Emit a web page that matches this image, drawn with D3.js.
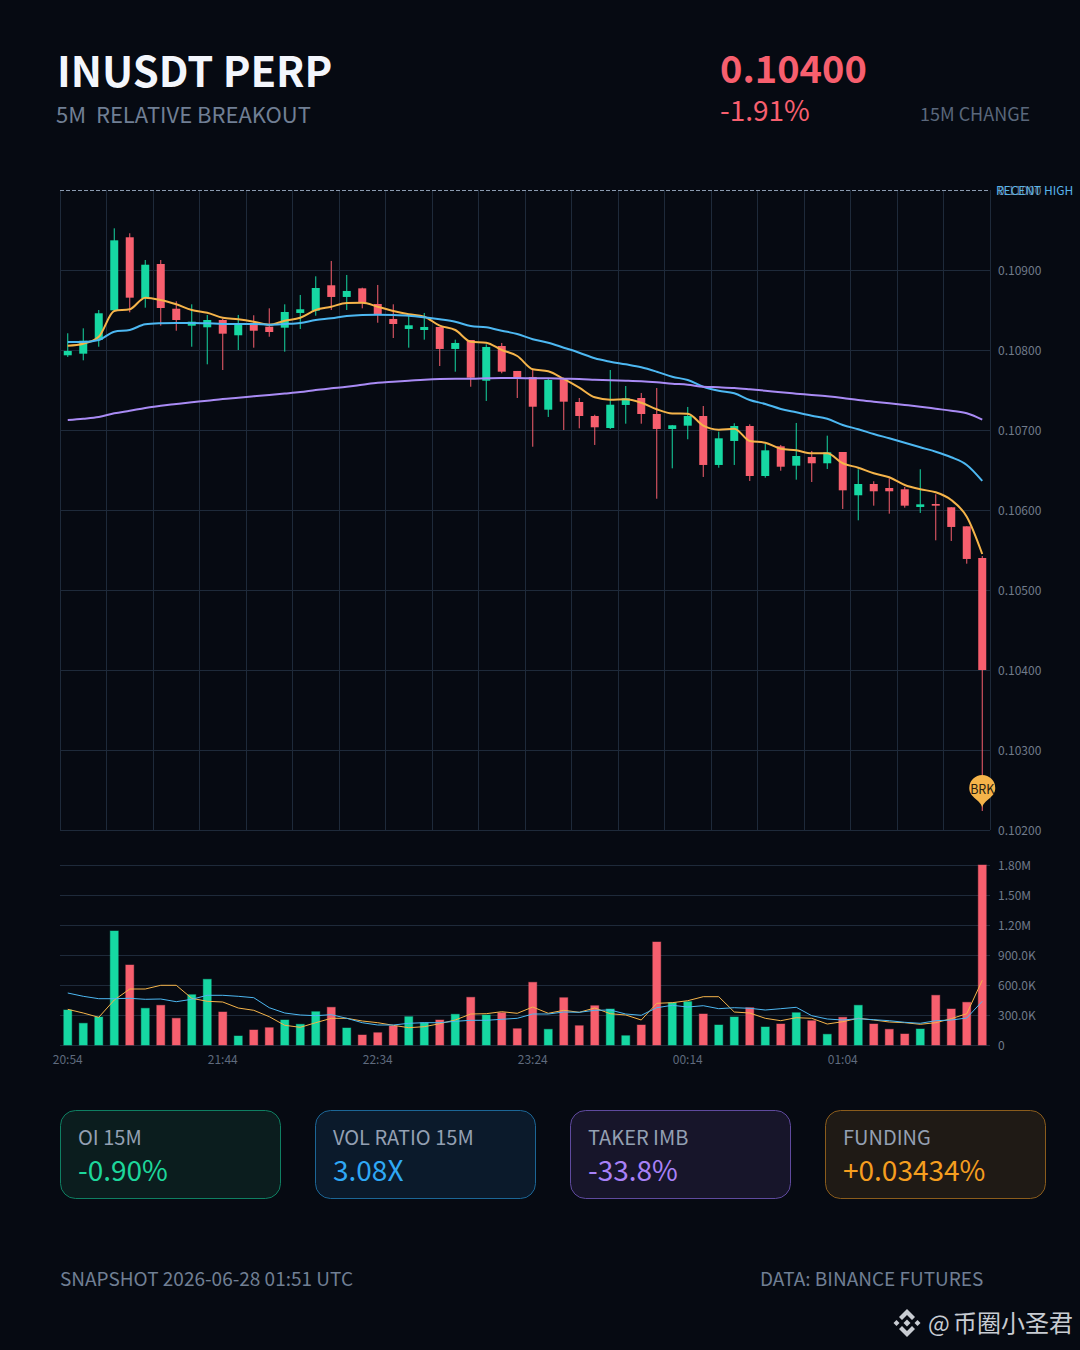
<!DOCTYPE html>
<html>
<head>
<meta charset="utf-8">
<script src="https://cdn.jsdelivr.net/npm/d3@7"></script>
<style>
  html, body { margin: 0; padding: 0; background: #060a12; }
  svg { display: block; }
  text { font-family: "Noto Sans CJK SC", "Noto Sans", sans-serif; white-space: pre; }
</style>
</head>
<body>
<div id="chart"></div>
<script>
const times = [
  "20:54","20:59","21:04","21:09","21:14","21:19","21:24","21:29","21:34","21:39",
  "21:44","21:49","21:54","21:59","22:04","22:09","22:14","22:19","22:24","22:29",
  "22:34","22:39","22:44","22:49","22:54","22:59","23:04","23:09","23:14","23:19",
  "23:24","23:29","23:34","23:39","23:44","23:49","23:54","23:59","00:04","00:09",
  "00:14","00:19","00:24","00:29","00:34","00:39","00:44","00:49","00:54","00:59",
  "01:04","01:09","01:14","01:19","01:24","01:29","01:34","01:39","01:44","01:49"
];
const open = [
  0.107934,0.107954,0.108125,0.108496,0.109409,0.10865,0.109075,0.108516,0.108304,0.108284,
  0.108375,0.108184,0.108338,0.108291,0.108279,0.108463,0.108491,0.108809,0.108663,0.108771,
  0.108575,0.108388,0.108263,0.10825,0.108288,0.108013,0.108125,0.107616,0.10805,0.107738,
  0.107663,0.107254,0.107634,0.10735,0.107175,0.107025,0.107313,0.1074,0.1072,0.107013,
  0.107054,0.107175,0.106563,0.106863,0.10705,0.106425,0.106796,0.106554,0.106663,0.106584,
  0.106725,0.106184,0.106325,0.106275,0.106259,0.106038,0.106075,0.106034,0.105796,0.1054
];
const close = [
  0.107988,0.108116,0.108459,0.109371,0.108654,0.109066,0.108525,0.108375,0.108354,0.108375,
  0.108204,0.108334,0.108241,0.108225,0.108475,0.108509,0.108775,0.108663,0.108738,0.108591,
  0.108438,0.108325,0.108309,0.108288,0.108013,0.108088,0.107654,0.108038,0.107729,0.107654,
  0.107291,0.107625,0.107354,0.107175,0.107034,0.107316,0.107396,0.1072,0.107013,0.107059,
  0.107175,0.106563,0.106896,0.10705,0.106425,0.106746,0.106541,0.106675,0.106584,0.106721,
  0.106246,0.106325,0.106234,0.106234,0.106054,0.106071,0.106054,0.105788,0.105388,0.104
];
const high = [
  0.108209,0.108271,0.1085,0.109521,0.109459,0.109125,0.109125,0.108609,0.108571,0.108438,
  0.108388,0.108438,0.108434,0.108521,0.108571,0.108688,0.108921,0.109113,0.108938,0.108779,
  0.108813,0.108571,0.108438,0.108463,0.108288,0.108129,0.108125,0.108071,0.108088,0.107738,
  0.10775,0.107638,0.107654,0.1074,0.107191,0.10775,0.10755,0.107463,0.107525,0.107063,
  0.107288,0.1073,0.106979,0.107084,0.107071,0.106825,0.106813,0.107088,0.106738,0.106929,
  0.106725,0.106509,0.106359,0.106396,0.106288,0.106509,0.106196,0.106034,0.105796,0.105425
];
const low = [
  0.107913,0.107871,0.108041,0.108488,0.108471,0.108529,0.108304,0.108241,0.108041,0.107821,
  0.10775,0.108,0.108029,0.108166,0.107979,0.108263,0.108429,0.1085,0.1085,0.108521,
  0.108341,0.10815,0.108029,0.108129,0.1078,0.107729,0.107541,0.107363,0.107709,0.1074,
  0.106791,0.107163,0.107,0.107021,0.106813,0.107013,0.107079,0.107079,0.106141,0.106521,
  0.106884,0.106413,0.106529,0.106563,0.106363,0.106404,0.106491,0.106379,0.10635,0.106513,
  0.106013,0.105871,0.106054,0.105954,0.106029,0.105963,0.105621,0.105613,0.105329,0.102238
];
const emaFast = [
  0.108054,0.108079,0.108166,0.108488,0.108509,0.108654,0.108625,0.108571,0.1085,0.108466,
  0.108404,0.108384,0.108354,0.108316,0.108366,0.108404,0.1085,0.108541,0.108588,0.10859,
  0.108541,0.108488,0.108446,0.108416,0.108304,0.10825,0.108104,0.108091,0.108,0.107925,
  0.107759,0.107734,0.107638,0.107529,0.107409,0.107379,0.107384,0.107341,0.107259,0.107206,
  0.107204,0.107054,0.107004,0.107016,0.106863,0.106841,0.106766,0.106746,0.106709,0.106709,
  0.106584,0.106529,0.106459,0.106409,0.106313,0.106259,0.106221,0.106125,0.105916,0.10545
];
const emaMid = [
  0.1081,0.1081,0.108125,0.108229,0.10825,0.108321,0.108334,0.108338,0.108338,0.108334,
  0.108325,0.108325,0.108325,0.108316,0.108325,0.108338,0.108375,0.108396,0.108425,0.108438,
  0.108441,0.108438,0.108429,0.108409,0.108384,0.108354,0.1083,0.108284,0.108241,0.1082,
  0.108134,0.108091,0.108029,0.107966,0.107896,0.107854,0.107821,0.107784,0.107729,0.107666,
  0.107625,0.107541,0.107491,0.107459,0.107375,0.107325,0.107263,0.107221,0.107179,0.107141,
  0.107063,0.107009,0.10695,0.106896,0.106841,0.106784,0.106729,0.106659,0.106563,0.106363
];
const emaSlow = [
  0.107125,0.107141,0.107163,0.107209,0.107241,0.107275,0.107304,0.107325,0.107346,0.107366,
  0.107388,0.107404,0.107421,0.107438,0.107456,0.107475,0.1075,0.107521,0.107541,0.107566,
  0.107591,0.107604,0.107616,0.107629,0.107638,0.107641,0.107641,0.107646,0.10765,0.10765,
  0.107646,0.107646,0.107641,0.107638,0.107629,0.107621,0.107616,0.107609,0.107596,0.107579,
  0.107566,0.107541,0.107534,0.107525,0.107509,0.107491,0.107471,0.107454,0.107438,0.107421,
  0.1074,0.107375,0.107354,0.107334,0.107313,0.107291,0.107266,0.107241,0.107209,0.107129
];
const volume = [
  350,217,280,1140,800,367,397,267,503,657,
  330,90,150,173,250,207,333,377,170,100,
  123,190,283,223,250,307,477,300,323,163,
  627,157,473,193,393,360,93,200,1030,423,
  433,310,200,280,373,180,210,323,243,107,
  277,397,210,157,110,160,497,360,427,1800
];
const volFast = [
  357,320,277,450,560,560,597,597,467,437,
  430,370,347,283,197,177,223,267,267,240,
  223,197,173,183,213,250,310,313,333,317,
  380,317,347,327,370,313,300,250,417,423,
  443,483,483,330,320,267,243,273,267,210,
  233,267,250,230,223,207,223,263,313,647
];
const volSlow = [
  520,487,463,463,467,457,460,433,457,497,
  497,487,473,373,320,300,293,303,267,223,
  200,200,217,223,223,237,247,247,257,267,
  310,310,330,327,347,350,310,297,373,397,
  380,393,363,373,367,350,363,377,293,260,
  250,263,253,243,227,217,243,250,270,437
];
const priceTicks = [0.102,0.103,0.104,0.105,0.106,0.107,0.108,0.109,0.11];
const volumeTicks = [0,300,600,900,1200,1500,1800];
const volumeTickLabels = ["0","300.0K","600.0K","900.0K","1.20M","1.50M","1.80M"];
const timeTicks = ["20:54","21:44","22:34","23:24","00:14","01:04"];
const cards = [
  { label: "OI 15M", value: "-0.90%", color: "#1dd79b", fill: "#0b1d1e", border: "#0f7f62" },
  { label: "VOL RATIO 15M", value: "3.08X", color: "#2fa8f5", fill: "#0b1a2b", border: "#1c6696" },
  { label: "TAKER IMB", value: "-33.8%", color: "#a881f7", fill: "#17152a", border: "#5f4a9e" },
  { label: "FUNDING", value: "+0.03434%", color: "#f59e1f", fill: "#1f1a15", border: "#8a5c1c" }
];

const green = "#16d8a2";
const red = "#f75f6e";
const orange = "#f5b44a";
const blue = "#4db8f2";
const purple = "#a98bf5";
const gridColor = "#1e2a3a";
const axisText = "#707b8b";

const svg = d3.select("#chart").append("svg")
  .attr("width", 1080)
  .attr("height", 1350);

svg.append("rect").attr("width", 1080).attr("height", 1350).attr("fill", "#060a12");

function label(x, y, str, size, color, weight) {
  return svg.append("text")
    .attr("x", x)
    .attr("y", y)
    .attr("font-size", size)
    .attr("font-weight", weight || 400)
    .attr("fill", color)
    .text(str);
}

// header
label(57, 87, "INUSDT PERP", 41.7, "#f3f6fc", 700);
label(56, 123, "5M  RELATIVE BREAKOUT", 22, "#707f94");
label(720, 83, "0.10400", 38, red, 700);
label(720, 121, "-1.91%", 28, red);
label(920, 120.5, "15M CHANGE", 18, "#5a677b");

const x = d3.scaleBand().domain(times).range([60, 990]);
const cx = (d) => x(d) + x.bandwidth() / 2;
const y = d3.scaleLinear().domain([0.102, 0.11]).range([830, 190]);
const yVol = d3.scaleLinear().domain([0, 1800]).range([1045, 865]);

// price grid
svg.append("g")
  .selectAll("line")
  .data(priceTicks.slice(0, -1))
  .enter()
  .append("line")
  .attr("x1", 60)
  .attr("x2", 990)
  .attr("y1", (d) => y(d) + 0.5)
  .attr("y2", (d) => y(d) + 0.5)
  .attr("stroke", gridColor);

svg.append("g")
  .selectAll("line")
  .data(times.filter((d, i) => i % 3 === 0).concat([null]))
  .enter()
  .append("line")
  .attr("x1", (d) => (d ? Math.floor(x(d)) + 0.5 : 990.5))
  .attr("x2", (d) => (d ? Math.floor(x(d)) + 0.5 : 990.5))
  .attr("y1", y(0.11))
  .attr("y2", y(0.102))
  .attr("stroke", gridColor);

// recent high line
svg.append("line")
  .attr("x1", 60)
  .attr("x2", 990)
  .attr("y1", y(0.11) + 0.5)
  .attr("y2", y(0.11) + 0.5)
  .attr("stroke", "#8b9bb0")
  .attr("stroke-dasharray", "4 2");

// price axis
const priceAxis = svg.append("g")
  .attr("transform", "translate(990,0)")
  .call(d3.axisRight(y).tickValues(priceTicks).tickSize(0).tickPadding(8).tickFormat(d3.format(".5f")));
priceAxis.select(".domain").remove();
priceAxis.selectAll("text").attr("font-size", 12).attr("dy", "0.38em").attr("fill", axisText).attr("font-family", null);

label(996, 195, "RECENT HIGH", 12, "#58b4ea");

// candles
const candles = svg.append("g")
  .selectAll("g")
  .data(times.map((t, i) => ({ t, o: open[i], c: close[i], h: high[i], l: low[i] })))
  .enter()
  .append("g");

candles.append("line")
  .attr("x1", (d) => cx(d.t))
  .attr("x2", (d) => cx(d.t))
  .attr("y1", (d) => y(d.h))
  .attr("y2", (d) => y(d.l))
  .attr("stroke", (d) => (d.c >= d.o ? green : red))
  .attr("stroke-width", 1);

candles.append("rect")
  .attr("x", (d) => cx(d.t) - 4)
  .attr("y", (d) => y(Math.max(d.o, d.c)))
  .attr("width", 8)
  .attr("height", (d) => Math.max(1, Math.abs(y(d.o) - y(d.c))))
  .attr("fill", (d) => (d.c >= d.o ? green : red));

// moving averages
const priceLine = d3.line()
  .x((d, i) => cx(times[i]))
  .y((d) => y(d))
  .curve(d3.curveMonotoneX);

[[emaFast, orange], [emaMid, blue], [emaSlow, purple]].forEach(([values, color]) => {
  svg.append("path")
    .datum(values)
    .attr("fill", "none")
    .attr("stroke", color)
    .attr("stroke-width", 2)
    .attr("d", priceLine);
});

// breakout pin
const pinX = cx(times[59]);
const pinY = y(low[59]) - 3;
const pin = d3.path();
pin.moveTo(pinX, pinY);
pin.bezierCurveTo(pinX - 1, pinY - 8, pinX - 13, pinY - 10, pinX - 13, pinY - 20);
pin.arc(pinX, pinY - 20, 13, Math.PI, 0);
pin.bezierCurveTo(pinX + 13, pinY - 10, pinX + 1, pinY - 8, pinX, pinY);
svg.append("path").attr("d", pin.toString()).attr("fill", orange);
svg.append("text")
  .attr("x", pinX)
  .attr("y", pinY - 13.5)
  .attr("text-anchor", "middle")
  .attr("font-size", 12.5)
  .attr("fill", "#2a2010")
  .text("BRK");

// volume panel
svg.append("g")
  .selectAll("line")
  .data(volumeTicks)
  .enter()
  .append("line")
  .attr("x1", 60)
  .attr("x2", 990)
  .attr("y1", (d) => yVol(d) + 0.5)
  .attr("y2", (d) => yVol(d) + 0.5)
  .attr("stroke", gridColor);

const volAxis = svg.append("g")
  .attr("transform", "translate(990,0)")
  .call(d3.axisRight(yVol).tickValues(volumeTicks).tickSize(0).tickPadding(8)
    .tickFormat((d, i) => volumeTickLabels[i]));
volAxis.select(".domain").remove();
volAxis.selectAll("text").attr("font-size", 12).attr("dy", "0.38em").attr("fill", axisText).attr("font-family", null);

svg.append("g")
  .selectAll("rect")
  .data(times)
  .enter()
  .append("rect")
  .attr("x", (d) => cx(d) - 4)
  .attr("y", (d, i) => yVol(volume[i]))
  .attr("width", 8)
  .attr("height", (d, i) => yVol(0) - yVol(volume[i]))
  .attr("fill", (d, i) => (close[i] >= open[i] ? green : red))
  .attr("stroke", (d, i) => (close[i] >= open[i] ? green : red))
  .attr("stroke-opacity", 0.45);

const volLine = d3.line()
  .x((d, i) => cx(times[i]))
  .y((d) => yVol(d));

[[volFast, orange], [volSlow, blue]].forEach(([values, color]) => {
  svg.append("path")
    .datum(values)
    .attr("fill", "none")
    .attr("stroke", color)
    .attr("stroke-width", 1)
    .attr("d", volLine);
});

const timeAxis = svg.append("g")
  .attr("transform", "translate(0,1045)")
  .call(d3.axisBottom(x).tickValues(timeTicks).tickSize(0).tickPadding(10));
timeAxis.select(".domain").remove();
timeAxis.selectAll("text").attr("font-size", 12).attr("fill", "#5f6b7e").attr("font-family", null);

// stat cards
const cardX = d3.scalePoint().domain(cards.map((d) => d.label)).range([60, 825]);
const card = svg.append("g")
  .selectAll("g")
  .data(cards)
  .enter()
  .append("g")
  .attr("transform", (d) => `translate(${cardX(d.label)},1110)`);

card.append("rect")
  .attr("x", 0.5)
  .attr("y", 0.5)
  .attr("width", 220)
  .attr("height", 88)
  .attr("rx", 15)
  .attr("fill", (d) => d.fill)
  .attr("stroke", (d) => d.border);

card.append("text")
  .attr("x", 18)
  .attr("y", 35)
  .attr("font-size", 20)
  .attr("fill", "#94a0b3")
  .text((d) => d.label);

card.append("text")
  .attr("x", 18)
  .attr("y", 71)
  .attr("font-size", 28)
  .attr("fill", (d) => d.color)
  .text((d) => d.value);

// footer
label(60, 1286, "SNAPSHOT 2026-06-28 01:51 UTC", 19, "#707f94");
label(760, 1286, "DATA: BINANCE FUTURES", 19, "#707f94");

// watermark
const logo = svg.append("g").attr("transform", "translate(907,1323)").attr("fill", "#c8ccd2");
logo.append("path").attr("d", "M0,-14 L8,-6 L5,-3 L0,-8 L-5,-3 L-8,-6 Z");
logo.append("path").attr("d", "M0,14 L8,6 L5,3 L0,8 L-5,3 L-8,6 Z");
logo.append("path").attr("d", "M-13.5,0 L-10.5,-3 L-7.5,0 L-10.5,3 Z");
logo.append("path").attr("d", "M13.5,0 L10.5,-3 L7.5,0 L10.5,3 Z");
logo.append("path").attr("d", "M0,-3.5 L3.5,0 L0,3.5 L-3.5,0 Z");
label(928, 1332, "@", 23, "#c8ccd2");
label(953, 1332, "币圈小圣君", 24, "#c8ccd2");
</script>
</body>
</html>
